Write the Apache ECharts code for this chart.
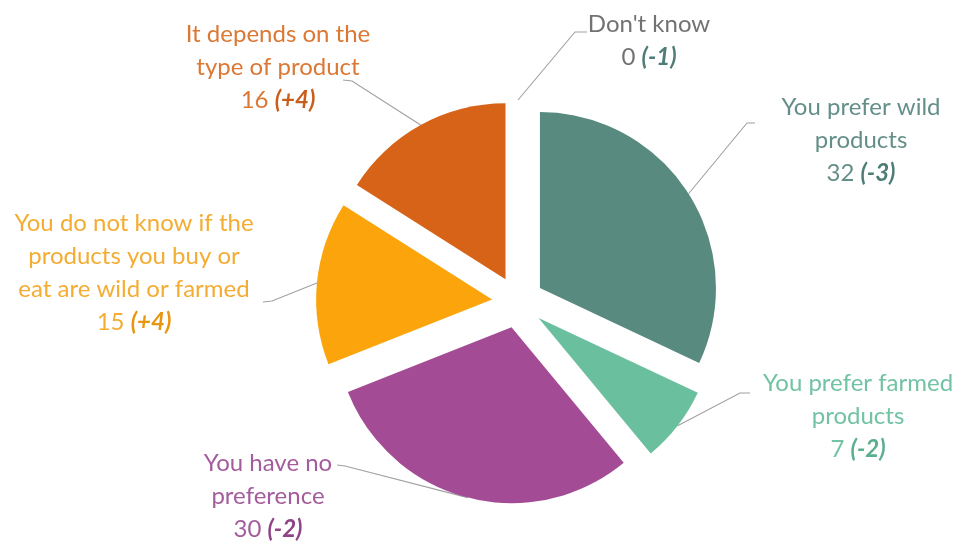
<!DOCTYPE html>
<html>
<head>
<meta charset="utf-8">
<script src="https://cdn.jsdelivr.net/npm/echarts@6/dist/echarts.min.js"></script>
<style>
  html, body { margin: 0; padding: 0; background: #ffffff; }
  #chart { width: 959px; height: 541px; }
</style>
</head>
<body>
<div id="chart"></div>
<script>
// Survey answers: share of respondents (%) and change since the previous wave
const categories = [
  'You prefer wild products',
  'You prefer farmed products',
  'You have no preference',
  'You do not know if the products you buy or eat are wild or farmed',
  'It depends on the type of product',
  "Don't know"
];
const labelLines = [
  'You prefer wild\nproducts',
  'You prefer farmed\nproducts',
  'You have no\npreference',
  'You do not know if the\nproducts you buy or\neat are wild or farmed',
  'It depends on the\ntype of product',
  "Don't know"
];
const shares = [32, 7, 30, 15, 16, 0];
const changes = ['-3', '-2', '-2', '+4', '+4', '-1'];

// Styling
const sliceColors = ['#588A80', '#6ABF9F', '#A34C95', '#FBA40C', '#D66318', '#8C8C8C'];
const textColors  = ['#648F88', '#72C2A4', '#A45C9D', '#F4AC32', '#DA7834', '#727272'];
const deltaColors = ['#4E7D76', '#5BAE8E', '#8F4487', '#E8960F', '#C95E1B', '#4E7D78'];

// Label block centres and the elbow/end of each leader line (chart pixels)
const labelBoxes = [
  { x: 861, y: 140, elbow: [747, 123], end: [755, 123] },
  { x: 858, y: 416, elbow: [740, 393], end: [750, 393] },
  { x: 268, y: 496, elbow: [345, 466], end: [337, 465] },
  { x: 134, y: 273, elbow: [272, 301], end: [263, 302] },
  { x: 278, y: 67,  elbow: [352, 81],  end: [343, 80] },
  { x: 649, y: 41,  elbow: [575, 32],  end: [587, 32] }
];

const CX = 518, CY = 302, RADIUS = 176, EXPLODE = 26;
const FONT = 'Lato', FONT_SIZE = 24, LINE_HEIGHT = 33;
const total = shares.reduce((a, b) => a + b, 0);

const chart = echarts.init(document.getElementById('chart'), null, { renderer: 'canvas' });

// Each slice gets its own pie series (same angular layout), whose centre is
// pushed outward along the slice's bisector to explode it.
let cum = 0;
const series = shares.map((v, i) => {
  const midFrac = (cum + v / 2) / total;
  cum += v;
  const ang = Math.PI / 2 - midFrac * 2 * Math.PI; // math angle, 90deg = up
  const cx = CX + Math.cos(ang) * EXPLODE;
  const cy = CY - Math.sin(ang) * EXPLODE;
  return {
    type: 'pie',
    center: [cx, cy],
    radius: RADIUS,
    startAngle: 90,
    clockwise: true,
    avoidLabelOverlap: false,
    minShowLabelAngle: -1,
    silent: true,
    emphasis: { disabled: true },
    labelLine: { lineStyle: { color: '#A0A0A0', width: 1.1 } },
    labelLayout: function (params) {
      if (params.dataIndex !== i) return {};
      const box = labelBoxes[i];
      const data = chart.getModel().getSeriesByIndex(params.seriesIndex).getData();
      const lay = data.getItemLayout(i);
      const mid = (lay.startAngle + lay.endAngle) / 2;
      const start = [lay.cx + Math.cos(mid) * lay.r, lay.cy + Math.sin(mid) * lay.r];
      return {
        x: box.x,
        y: box.y,
        align: 'center',
        verticalAlign: 'middle',
        labelLinePoints: [start, box.elbow, box.end]
      };
    },
    data: categories.map((name, j) => {
      const own = j === i;
      return {
        name: name,
        value: shares[j],
        itemStyle: { color: own ? sliceColors[j] : 'rgba(0,0,0,0)' },
        labelLine: { show: own },
        label: own ? {
          show: true,
          position: 'outside',
          align: 'center',
          formatter: function () {
            const name = labelLines[j].split('\n').map(s => '{n|' + s + '}').join('\n');
            return name + '\n{v|' + shares[j] + ' }{d|(' + changes[j] + ')}';
          },
          rich: {
            n: { color: textColors[j], fontSize: FONT_SIZE, lineHeight: LINE_HEIGHT, fontFamily: FONT, align: 'center' },
            v: { color: textColors[j], fontSize: FONT_SIZE, lineHeight: LINE_HEIGHT, fontFamily: FONT },
            d: { color: deltaColors[j], fontSize: FONT_SIZE, lineHeight: LINE_HEIGHT, fontFamily: FONT, fontStyle: 'italic', fontWeight: 'bold' }
          }
        } : { show: false }
      };
    })
  };
});

chart.setOption({ animation: false, series: series });
</script>
</body>
</html>
